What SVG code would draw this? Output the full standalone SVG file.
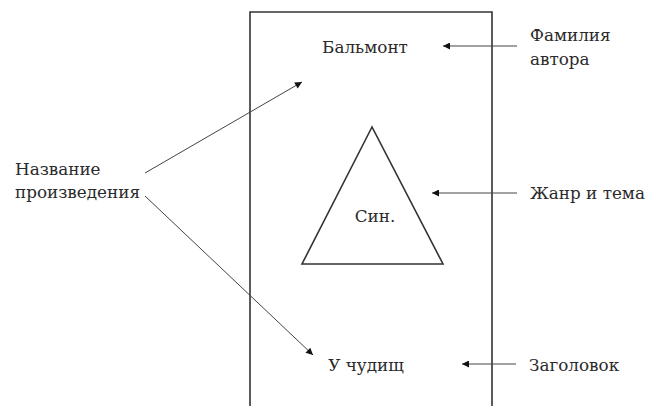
<svg xmlns="http://www.w3.org/2000/svg" width="645" height="406" viewBox="0 0 645 406">
<style>
text{font-family:'DejaVu Serif','Liberation Serif',serif;font-size:16.8px;fill:#2a2a2a}
.frame{fill:none;stroke:#333;stroke-width:1.6}
.ln{stroke:#444;stroke-width:1;fill:none}
</style>
<defs>
<marker id="ah" viewBox="0 0 10 10" refX="10" refY="5" markerWidth="9" markerHeight="7" markerUnits="userSpaceOnUse" orient="auto">
<path d="M0,0L10,5L0,10z" fill="#111"/>
</marker>
</defs>
<rect width="645" height="406" fill="#fff"/>
<g id="book">
<path class="frame" d="M250,406V12H492V406"/>
</g>
<g id="author"><text x="365" y="53" text-anchor="middle">Бальмонт</text></g>
<g id="genre">
<polygon class="frame" points="372,127 302,264 443,264"/>
<text x="375" y="222" text-anchor="middle">Син.</text>
</g>
<g id="title"><text x="366" y="371" text-anchor="middle">У чудищ</text></g>
<g id="lbl-author"><text x="530" y="41">Фамилия</text><text x="530" y="65">автора</text></g>
<g id="lbl-work"><text x="15" y="175">Название</text><text x="15" y="198">произведения</text></g>
<g id="lbl-genre"><text x="530" y="199">Жанр и тема</text></g>
<g id="lbl-title"><text x="529" y="371">Заголовок</text></g>
<g id="connectors">
<line class="ln" x1="517" y1="46" x2="443" y2="46" marker-end="url(#ah)"/>
<line class="ln" x1="517" y1="193" x2="432" y2="193" marker-end="url(#ah)"/>
<line class="ln" x1="516" y1="364" x2="462" y2="364" marker-end="url(#ah)"/>
<line class="ln" x1="145" y1="173" x2="302" y2="82" marker-end="url(#ah)"/>
<line class="ln" x1="145" y1="196" x2="313" y2="355" marker-end="url(#ah)"/>
</g>
</svg>
